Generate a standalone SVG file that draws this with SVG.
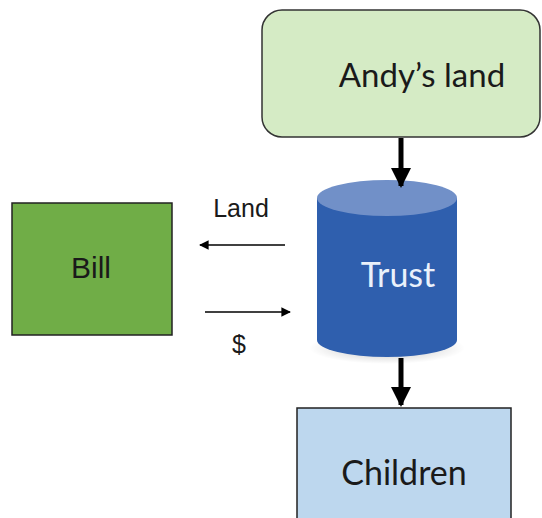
<svg xmlns="http://www.w3.org/2000/svg" width="542" height="518" viewBox="0 0 542 518">
<defs>
<style>
.lbl{font-family:Lato,"Liberation Sans",sans-serif;fill:#1a1a1a;text-anchor:middle}
.ar{font-family:"Liberation Sans",Arial,sans-serif;fill:#1a1a1a;text-anchor:middle}
.thick{stroke:#000;stroke-width:5;fill:none}
.thin{stroke:#000;stroke-width:1.6;fill:none}
</style>
<marker id="big" viewBox="0 0 10 10" refX="9" refY="5" markerWidth="4" markerHeight="4" markerUnits="strokeWidth" orient="auto">
<path d="M0,0 L10,5 L0,10 Z" fill="#000"/>
</marker>
<marker id="small" viewBox="0 0 10 10" refX="9" refY="5" markerWidth="8" markerHeight="6" markerUnits="strokeWidth" orient="auto">
<path d="M0,0 L10,5 L0,10 Z" fill="#000"/>
</marker>
<radialGradient id="shadow" cx="0.5" cy="0.5" r="0.5">
<stop offset="0" stop-color="#000" stop-opacity="0.25"/>
<stop offset="1" stop-color="#000" stop-opacity="0"/>
</radialGradient>
</defs>
<rect width="542" height="518" fill="#fff"/>
<g id="andys-land">
<rect x="262" y="10" width="278" height="127" rx="20" fill="#D5EBC5" stroke="#333" stroke-width="1.5"/>
<text class="lbl" x="422" y="87" font-size="33">Andy’s land</text>
</g>
<g id="trust">
<ellipse cx="387" cy="348" rx="78" ry="16" fill="url(#shadow)"/>
<path d="M317,198 L317,340 A70,17 0 0 0 457,340 L457,198 Z" fill="#2F5FAE"/>
<ellipse cx="387" cy="198" rx="70" ry="18" fill="#7190C8"/>
<text x="398" y="287" font-family="Lato,'Liberation Sans',sans-serif" font-size="34" fill="#EAF1FB" text-anchor="middle">Trust</text>
</g>
<g id="bill">
<rect x="12" y="203" width="160" height="132" fill="#70AD47" stroke="#222" stroke-width="1.5"/>
<text class="ar" x="91" y="278" font-size="30">Bill</text>
</g>
<g id="children">
<rect x="297" y="408" width="214" height="115" fill="#BDD7EE" stroke="#222" stroke-width="1.5"/>
<text class="lbl" x="404" y="485" font-size="34">Children</text>
</g>
<g id="connectors">
<line class="thick" x1="401" y1="138" x2="401" y2="186" marker-end="url(#big)"/>
<line class="thick" x1="401" y1="358" x2="401" y2="405" marker-end="url(#big)"/>
<line class="thin" x1="285" y1="245" x2="200" y2="245" marker-end="url(#small)"/>
<line class="thin" x1="205" y1="312" x2="290" y2="312" marker-end="url(#small)"/>
<text class="ar" x="241" y="217" font-size="25">Land</text>
<text class="ar" x="239" y="353" font-size="25">$</text>
</g>
</svg>
